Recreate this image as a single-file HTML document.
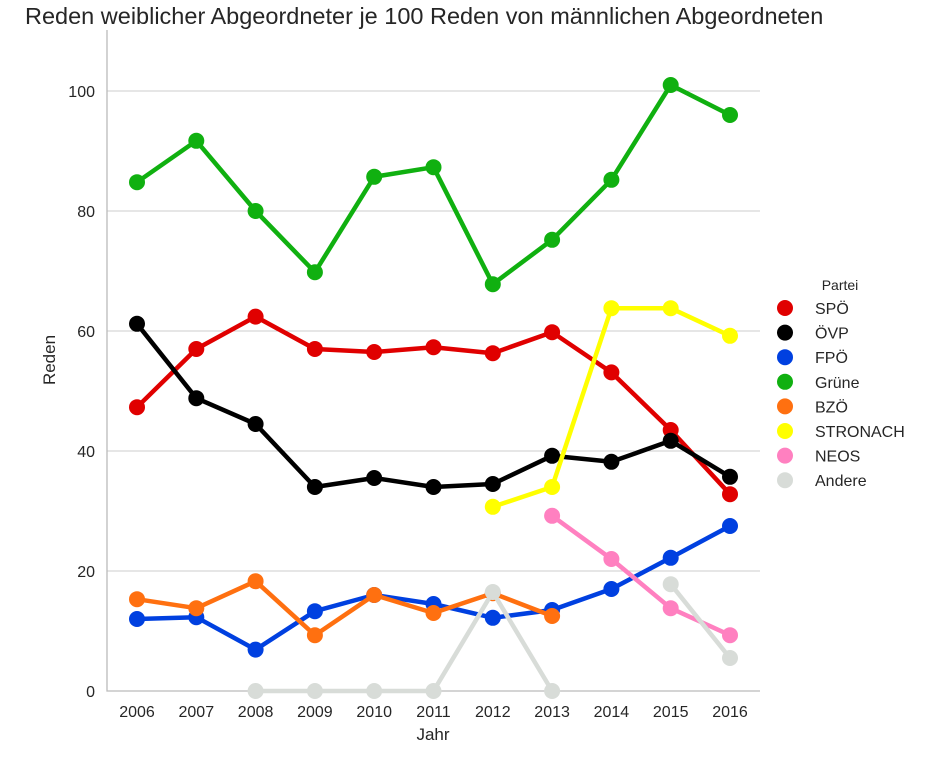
<!DOCTYPE html>
<html><head><meta charset="utf-8"><style>
body{margin:0;background:#fff}
svg text{font-family:"Liberation Sans",Arial,sans-serif;fill:#262626}
</style></head><body>
<svg width="927" height="768" id="c">
<text x="25" y="24" font-size="23.5">Reden weiblicher Abgeordneter je 100 Reden von männlichen Abgeordneten</text>
<text x="0" y="0" font-size="17" transform="translate(55,360) rotate(-90)" text-anchor="middle">Reden</text>
<text x="433" y="740" font-size="17" text-anchor="middle">Jahr</text>
<g id="grid"></g><g id="series"></g><g id="legend"></g>
</svg>
<script>
const years=[2006,2007,2008,2009,2010,2011,2012,2013,2014,2015,2016];
const yTicks=[0,20,40,60,80,100];
const parties=["SPÖ","ÖVP","FPÖ","Grüne","BZÖ","STRONACH","NEOS","Andere"];
const colors=["#e00000","#000000","#0040e0","#10b010","#ff7010","#ffff00","#ff80c0","#d8dcd8"];
const spo=[47.3,57,62.4,57,56.5,57.3,56.3,59.8,53.1,43.5,32.8];
const ovp=[61.2,48.8,44.5,34,35.5,34,34.5,39.2,38.2,41.7,35.7];
const fpo=[12,12.3,6.9,13.3,16,14.5,12.2,13.5,17,22.2,27.5];
const gruene=[84.8,91.7,80,69.8,85.7,87.3,67.8,75.2,85.2,101,96];
const bzo=[15.3,13.8,18.3,9.3,16,13,16.3,12.5,null,null,null];
const stronach=[null,null,null,null,null,null,30.7,34,63.8,63.8,59.2];
const neos=[null,null,null,null,null,null,null,29.2,22,13.8,9.3];
const andere=[null,null,0,0,0,0,16.5,0,null,17.8,5.5];
const allSeries=[spo,ovp,fpo,gruene,bzo,stronach,neos,andere];
const NS="http://www.w3.org/2000/svg";
const x=yr=>137+(yr-2006)*59.3;
const y=v=>691-v*6;
function mk(tag,attrs,parent){const e=document.createElementNS(NS,tag);for(const k in attrs)e.setAttribute(k,attrs[k]);parent.appendChild(e);return e;}
const grid=document.getElementById('grid');
yTicks.forEach(t=>{
 const l=mk('line',{x1:107,x2:760,y1:y(t),y2:y(t),stroke:'#cccccc','stroke-width':1},grid);
 
 
 const tx=mk('text',{x:95,y:y(t)+6,'font-size':16,'text-anchor':'end'},grid);tx.textContent=t;
 
 
});
years.forEach(yr=>{
 const tx=mk('text',{x:x(yr),y:717,'font-size':16,'text-anchor':'middle'},grid);tx.textContent=yr;
 
 
});
const ax=mk('path',{d:'M107 30 V691 H760',stroke:'#bbbbbb','stroke-width':1.3,fill:'none'},grid);


const sg=document.getElementById('series');
allSeries.forEach((s,i)=>{
 const g=mk('g',{},sg);
 
 
 let d='',pen=false;
 s.forEach((v,j)=>{if(v===null){pen=false;return;}d+=(pen?'L':'M')+x(years[j])+' '+y(v)+' ';pen=true;});
 const p=mk('path',{d:d,stroke:colors[i],'stroke-width':4.5,fill:'none','stroke-linejoin':'round'},g);
 
 
 s.forEach((v,j)=>{if(v===null)return;
  const c=mk('circle',{cx:x(years[j]),cy:y(v),r:8,fill:colors[i]},g);
  
  
 });
});
const lg=document.getElementById('legend');
const lt=mk('text',{x:840,y:290,'font-size':14,'text-anchor':'middle'},lg);lt.textContent='Partei';


parties.forEach((p,i)=>{
 const yy=308+i*24.6;
 const g=mk('g',{},lg);
 
 
 mk('circle',{cx:785,cy:yy,r:8,fill:colors[i]},g);
 const t=mk('text',{x:815,y:yy+6,'font-size':16},g);t.textContent=p;
});
</script>
</body></html>
